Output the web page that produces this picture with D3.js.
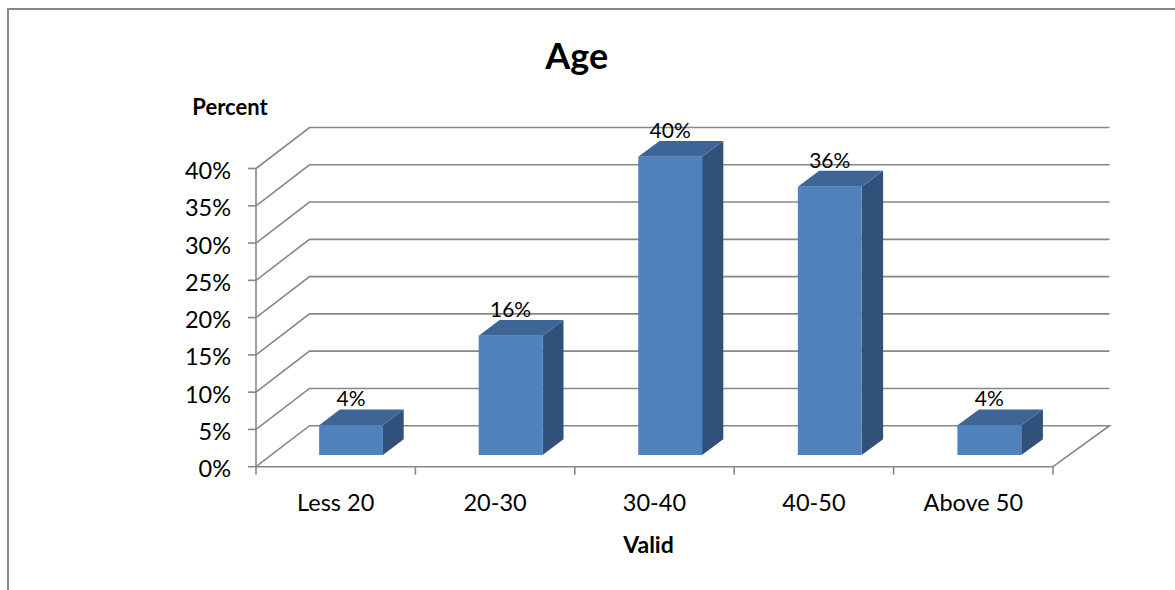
<!DOCTYPE html>
<html>
<head>
<meta charset="utf-8">
<script src="https://cdn.jsdelivr.net/npm/d3@7"></script>
<style>
  html, body { margin: 0; padding: 0; background: #fff; }
  svg { display: block; }
  text { font-family: Lato, "Open Sans", sans-serif; fill: #000; }
</style>
</head>
<body>
<svg id="chart" width="1175" height="590"></svg>
<script>
// Age distribution (percent of respondents)
const categories = ["Less 20", "20-30", "30-40", "40-50", "Above 50"];
const values = [4, 16, 40, 36, 4];
const valueLabels = ["4%", "16%", "40%", "36%", "4%"];
const yTicks = [0, 5, 10, 15, 20, 25, 30, 35, 40];
const title = "Age";
const yTitle = "Percent";
const xTitle = "Valid";

const svg = d3.select("#chart");

// Oblique 3D projection: front plane and back wall, depth d in [0,1]
const n = categories.length;
const xFront = d3.scaleLinear().domain([0, n]).range([256, 1053]);
const xBack = d3.scaleLinear().domain([0, n]).range([309.5, 1109.5]);
const y = d3.scaleLinear().domain([0, 40]).range([466.7, 168.5]);
const depthDy = -41;
const px = (u, d) => xFront(u) * (1 - d) + xBack(u) * d;
const py = (v, d) => y(v) + depthDy * d;

const gridColor = "#878787";

// Outer frame (top and left edges)
svg.append("line").attr("x1", 7).attr("x2", 1175).attr("y1", 9).attr("y2", 9)
  .attr("stroke", gridColor).attr("stroke-width", 2);
svg.append("line").attr("x1", 8).attr("x2", 8).attr("y1", 8).attr("y2", 590)
  .attr("stroke", gridColor).attr("stroke-width", 2);

// Gridlines: left side wall diagonal + back wall horizontal
const grid = svg.append("g").attr("fill", "none").attr("stroke", gridColor).attr("stroke-width", 1.6);
yTicks.forEach(t => {
  const pts = [[px(0, 0), py(t, 0)], [px(0, 1), py(t, 1)], [px(n, 1), py(t, 1)]];
  if (t === 0) pts.push([px(n, 0), py(0, 0)]);
  grid.append("path").attr("d", d3.line()(pts));
});

// Front axes
const axisG = svg.append("g").attr("stroke", gridColor).attr("stroke-width", 1.6).attr("fill", "none");
axisG.append("line").attr("x1", px(0, 0)).attr("x2", px(0, 0))
  .attr("y1", y(40)).attr("y2", y(0));
axisG.append("line").attr("x1", px(0, 0)).attr("x2", px(n, 0))
  .attr("y1", y(0)).attr("y2", y(0));
yTicks.forEach(t => {
  axisG.append("line").attr("x1", px(0, 0) - 8).attr("x2", px(0, 0))
    .attr("y1", y(t)).attr("y2", y(t));
});
d3.range(n + 1).forEach(i => {
  axisG.append("line").attr("x1", xFront(i)).attr("x2", xFront(i))
    .attr("y1", y(0)).attr("y2", y(0) + 8);
});

// Y tick labels
svg.append("g").selectAll("text").data(yTicks).join("text")
  .attr("x", 231).attr("y", t => y(t) + 10.5)
  .attr("text-anchor", "end").attr("font-size", 23.5)
  .text(t => t + "%");

// Category labels
svg.append("g").selectAll("text").data(categories).join("text")
  .attr("x", (c, i) => xFront(i + 0.5)).attr("y", 510.7)
  .attr("text-anchor", "middle").attr("font-size", 23.5)
  .text(c => c);

// 3D bars
const dFront = 0.285, dBack = 0.67;
const u0 = 0.3, u1 = 0.7;
const bars = svg.append("g");
values.forEach((v, i) => {
  const a = i + u0, b = i + u1;
  const g = bars.append("g");
  // side face
  g.append("path").attr("fill", "#30527A").attr("d", d3.line()([
    [px(b, dFront), py(0, dFront)], [px(b, dBack), py(0, dBack)],
    [px(b, dBack), py(v, dBack)], [px(b, dFront), py(v, dFront)]
  ]) + "Z");
  // top face
  g.append("path").attr("fill", "#3D6596").attr("d", d3.line()([
    [px(a, dFront), py(v, dFront)], [px(b, dFront), py(v, dFront)],
    [px(b, dBack), py(v, dBack)], [px(a, dBack), py(v, dBack)]
  ]) + "Z");
  // front face
  g.append("path").attr("fill", "#4F81BD").attr("d", d3.line()([
    [px(a, dFront), py(0, dFront)], [px(b, dFront), py(0, dFront)],
    [px(b, dFront), py(v, dFront)], [px(a, dFront), py(v, dFront)]
  ]) + "Z");
});

// Value labels
svg.append("g").selectAll("text").data(values).join("text")
  .attr("x", (v, i) => px(i + 0.5, dFront))
  .attr("y", v => py(v, dBack) - 3)
  .attr("text-anchor", "middle").attr("font-size", 21)
  .text((v, i) => valueLabels[i]);

// Titles
svg.append("text").attr("x", 576.7).attr("y", 69.3).attr("text-anchor", "middle")
  .attr("font-size", 36).attr("font-weight", "bold").text(title);
svg.append("text").attr("x", 230).attr("y", 115.3).attr("text-anchor", "middle")
  .attr("font-size", 22).attr("font-weight", "bold").text(yTitle);
svg.append("text").attr("x", 648.5).attr("y", 553.3).attr("text-anchor", "middle")
  .attr("font-size", 23).attr("font-weight", "bold").text(xTitle);
</script>
</body>
</html>
